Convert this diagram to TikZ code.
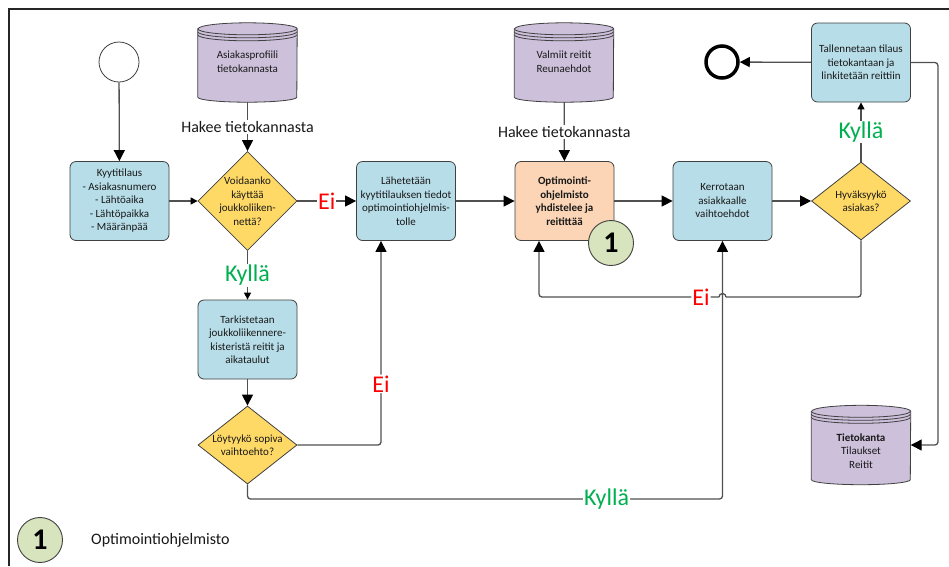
\documentclass[tikz,border=0pt]{standalone}
\usepackage{fontspec}
\setmainfont{Carlito}
\usetikzlibrary{shapes.geometric,arrows.meta,calc}

\definecolor{boxblue}{HTML}{B7DDE8}
\definecolor{diayel}{HTML}{FFD966}
\definecolor{dbpurple}{HTML}{CCC0DA}
\definecolor{peach}{HTML}{FBD5B5}
\definecolor{badgegreen}{HTML}{D7E4BD}
\definecolor{edge}{HTML}{404040}
\definecolor{wirecol}{HTML}{505050}
\definecolor{noRed}{HTML}{FF0000}
\definecolor{yesGreen}{HTML}{00B050}

\tikzset{
  procbox/.style={draw=edge, line width=0.8pt, fill=boxblue, rounded corners=6pt,
    minimum width=99pt, minimum height=79pt, inner sep=0pt},
  dia/.style={draw=edge, line width=0.8pt, fill=diayel, diamond, inner sep=0pt,
    minimum width=99pt, minimum height=#1},
  dia/.default=78pt,
  dbbox/.style={rectangle, minimum width=99pt, minimum height=79pt, inner sep=0pt},
  txt/.style={font=\fontsize{11}{13.5}\selectfont, align=center, inner sep=0pt, text=black!90},
  wire/.style={draw=wirecol, line width=1.3pt},
  big/.style={-{Triangle[length=11pt,width=11pt,color=black]}},
  small/.style={-{Triangle[length=7pt,width=7pt,color=black]}},
  yes/.style={text=yesGreen, font=\fontsize{24}{24}\selectfont, fill=white, inner sep=1pt},
  no/.style={text=noRed, font=\fontsize{24}{24}\selectfont, fill=white, inner sep=1pt},
  fetch/.style={font=\fontsize{16}{16}\selectfont, fill=white, inner sep=1.5pt, text=black!90},
  badge/.style={circle, draw=edge, line width=0.9pt, fill=badgegreen, minimum size=45pt,
    inner sep=0pt, font=\fontsize{30}{30}\selectfont\bfseries},
}

% database cylinder drawn around an invisible rectangle node
\newcommand\dbdraw[1]{%
  \filldraw[fill=dbpurple, draw=edge, line width=0.8pt]
    ([yshift=-6pt]#1.north west) -- ([yshift=5pt]#1.south west)
    arc[start angle=180, end angle=360, x radius=49.5pt, y radius=5pt]
    -- ([yshift=-6pt]#1.north east)
    arc[start angle=0, end angle=180, x radius=49.5pt, y radius=6pt] -- cycle;
  \draw[edge, line width=0.8pt] ([yshift=-6pt]#1.north west)
    arc[start angle=180, end angle=360, x radius=49.5pt, y radius=6pt];
  \draw[edge, line width=0.8pt] ([yshift=-9pt]#1.north west)
    arc[start angle=180, end angle=360, x radius=49.5pt, y radius=6pt];
  \draw[edge, line width=0.8pt] ([yshift=-12pt]#1.north west)
    arc[start angle=180, end angle=360, x radius=49.5pt, y radius=6pt];
}

\begin{document}
\begin{tikzpicture}[x=1pt, y=1pt]
  \fill[white] (0,0) rectangle (949,-566);
  \useasboundingbox (0,0) rectangle (949,-566);

  % frame
  \draw[line width=2pt, black!85] (9,-566) -- (9,-9) -- (949,-9);

  % start and end events
  \node[circle, draw=edge, line width=0.8pt, minimum size=40pt, inner sep=0pt] (start) at (119,-62) {};
  \node[circle, draw=black, line width=3.5pt, minimum size=32pt, inner sep=0pt] (stop) at (722,-62) {};

  % databases
  \node[dbbox] (db1) at (247.5,-62.5) {};
  \dbdraw{db1}
  \node[txt] (db1t) at (247.5,-61.5) {Asiakasprofiili\\tietokannasta};

  \node[dbbox] (db2) at (564,-62.5) {};
  \dbdraw{db2}
  \node[txt] (db2t) at (564,-61.5) {Valmiit reitit\\Reunaehdot};

  \node[dbbox] (db3) at (861,-445) {};
  \dbdraw{db3}
  \node[txt] (db3t) at (861,-451) {\textbf{Tietokanta}\\Tilaukset\\Reitit};

  % process boxes
  \node[procbox] (kyyti) at (119.5,-201) {};
  \node[txt] (kyytit) at (kyyti) {Kyytitilaus\\- Asiakasnumero\\- Lähtöaika\\- Lähtöpaikka\\- Määränpää};

  \node[procbox] (send) at (406,-201) {};
  \node[txt] (sendt) at (send) {Lähetetään\\kyytitilauksen tiedot\\optimointiohjelmis-\\tolle};

  \node[procbox] (check) at (247.5,-339.5) {};
  \node[txt] (checkt) at (check) {Tarkistetaan\\joukkoliikennere-\\kisteristä reitit ja\\aikataulut};

  \node[procbox, fill=peach] (opt) at (564.5,-201) {};
  \node[txt, font=\fontsize{11}{13.5}\selectfont\bfseries] (optt) at (opt) {Optimointi-\\ohjelmisto\\yhdistelee ja\\reitittää};

  \node[procbox] (tell) at (722.5,-201) {};
  \node[txt] (tellt) at (tell) {Kerrotaan\\asiakkaalle\\vaihtoehdot};

  \node[procbox] (save) at (861,-62.5) {};
  \node[txt] (savet) at (save) {Tallennetaan tilaus\\tietokantaan ja\\linkitetään reittiin};

  % decisions
  \node[dia=99pt] (d1) at (247.5,-201) {};
  \node[txt] (d1t) at (d1) {Voidaanko\\käyttää\\joukkoliiken-\\nettä?};

  \node[dia] (d2) at (247.5,-445) {};
  \node[txt] (d2t) at (d2) {Löytyykö sopiva\\vaihtoehto?};

  \node[dia] (d3) at (861,-201) {};
  \node[txt] (d3t) at (d3) {Hyväksyykö\\asiakas?};

  % connectors
  \draw[wire, big] (start) -- (kyyti);
  \draw[wire, small] (kyyti) -- (d1);
  \draw[wire, big] (db1) -- node[fetch] (f1) {Hakee tietokannasta} (d1);
  \draw[wire, big] (d1) -- node[no] (no1) {Ei} (send);
  \draw[wire, small] (d1) -- node[yes] (yes1) {Kyllä} (check);
  \draw[wire, big] (check) -- (d2);
  \draw[wire, big, rounded corners=3pt] (d2.east) -| node[no, pos=0.65] (no2) {Ei} ([xshift=-25pt]send.south);

  \coordinate (kyCorner) at (722.5,-499);
  \draw[wire, big, rounded corners=3pt] (d2.south) |- node[yes, pos=0.878] (yes2) {Kyllä} (kyCorner) -- (tell.south);

  \draw[wire, big] (send) -- (opt);
  \draw[wire, big] (db2) -- node[fetch] (f2) {Hakee tietokannasta} (opt);
  \draw[wire, big] (opt) -- (tell);
  \draw[wire, big] (tell) -- (d3);
  \draw[wire, small] (d3) -- node[yes] (yes3) {Kyllä} (save);
  \draw[wire, {Triangle[length=10pt,width=10pt,color=black]}-] (stop) -- (save);
  \draw[wire, big, rounded corners=3pt] (save.east) -- ++(27,0) |- (db3.east);

  % rejection loop back to the optimiser, hopping over the crossing line
  \coordinate (hopR) at (726,-297);
  \coordinate (hopL) at (719,-297);
  \draw[wire, rounded corners=3pt] (d3.south) |- (hopR);
  \draw[wire] (hopR) arc[start angle=0, end angle=180, radius=3.5pt];
  \draw[wire, big, rounded corners=3pt] (hopL) -| node[no, pos=0.05] (no3) {Ei} ([xshift=-25.5pt]opt.south);

  % badge on the optimiser box
  \node[badge] (bdg) at (611,-243) {1};

  % legend
  \node[badge] (lg) at (40,-540) {1};
  \node[anchor=west, font=\fontsize{16}{16}\selectfont, inner sep=0pt, text=black!90] (lgt) at (91,-540) {Optimointiohjelmisto};
\end{tikzpicture}
\end{document}
